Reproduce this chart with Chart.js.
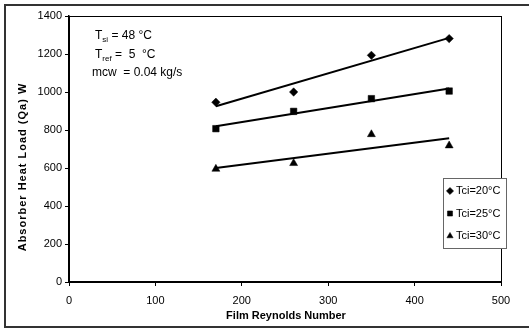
<!DOCTYPE html>
<html>
<head>
<meta charset="utf-8">
<script src="https://cdn.jsdelivr.net/npm/chart.js@4/dist/chart.umd.min.js"></script>
<style>
  html, body { margin: 0; padding: 0; background: #fff; }
  #wrap { width: 529px; height: 329px; position: relative; }
</style>
</head>
<body>
<div id="wrap"><canvas id="c" width="529" height="329"></canvas></div>
<script>
// Film Reynolds number at which the absorber was tested
const reynolds = [170, 260, 350, 440];
// Absorber heat load (W) for each cooling-water inlet temperature
const qaTci20 = [946, 1000, 1193, 1281];
const qaTci25 = [807, 898, 965, 1005];
const qaTci30 = [595, 625, 777, 718];
const seriesLabels = ['Tci=20\u00B0C', 'Tci=25\u00B0C', 'Tci=30\u00B0C'];
const seriesMarkers = ['rectRot', 'rect', 'triangle'];
const xTicks = [0, 100, 200, 300, 400, 500];
const yTicks = [0, 200, 400, 600, 800, 1000, 1200, 1400];

const FONT = '"Liberation Sans", Arial, sans-serif';

// least-squares straight line through a series, evaluated at the first and last x
function linearTrend(xs, ys) {
  const n = xs.length;
  const mx = xs.reduce((a, b) => a + b, 0) / n;
  const my = ys.reduce((a, b) => a + b, 0) / n;
  let sxy = 0, sxx = 0;
  for (let i = 0; i < n; i++) {
    sxy += (xs[i] - mx) * (ys[i] - my);
    sxx += (xs[i] - mx) * (xs[i] - mx);
  }
  const slope = sxy / sxx;
  const x0 = Math.min(...xs), x1 = Math.max(...xs);
  return [{ x: x0, y: my + slope * (x0 - mx) }, { x: x1, y: my + slope * (x1 - mx) }];
}

const allSeries = [qaTci20, qaTci25, qaTci30];
const markerRadius = [4.2, 4.6, 4.6];

const datasets = [];
allSeries.forEach((ys) => {
  datasets.push({
    type: 'line',
    data: linearTrend(reynolds, ys),
    borderColor: '#000',
    borderWidth: 2,
    pointRadius: 0,
    fill: false
  });
});
allSeries.forEach((ys, i) => {
  datasets.push({
    type: 'scatter',
    label: seriesLabels[i],
    data: reynolds.map((x, j) => ({ x: x, y: ys[j] })),
    pointStyle: seriesMarkers[i],
    pointRadius: markerRadius[i],
    pointBackgroundColor: '#000',
    pointBorderColor: '#000',
    pointBorderWidth: 0.5,
    showLine: false
  });
});

const framePlugin = {
  id: 'frame',
  beforeDatasetsDraw(chart) {
    const { ctx, chartArea: a } = chart;
    ctx.save();
    ctx.strokeStyle = '#000';
    ctx.lineWidth = 1;
    ctx.strokeRect(Math.round(a.left) + 0.5, Math.round(a.top) + 0.5,
      Math.round(a.right - a.left), Math.round(a.bottom - a.top));
    ctx.restore();
  },
  afterDraw(chart) {
    const ctx = chart.ctx;
    const a = chart.chartArea;
    ctx.save();

    // outer border of the figure (left, top, bottom edges)
    ctx.strokeStyle = '#333';
    ctx.lineWidth = 2;
    ctx.beginPath();
    ctx.moveTo(529, 5); ctx.lineTo(5, 5); ctx.lineTo(5, 327); ctx.lineTo(529, 327);
    ctx.stroke();

    // axis titles
    ctx.fillStyle = '#000';
    ctx.font = 'bold 11px ' + FONT;
    ctx.textAlign = 'center';
    ctx.textBaseline = 'alphabetic';
    ctx.fillText('Film Reynolds Number', (a.left + a.right) / 2 + 1, 318.5);

    ctx.save();
    ctx.translate(26, 167);
    ctx.rotate(-Math.PI / 2);
    ctx.letterSpacing = '1px';
    ctx.fillText('Absorber Heat Load (Qa) W', 0, 0);
    ctx.restore();

    // operating conditions
    ctx.textAlign = 'left';
    const tx = 95;
    function subLine(main, sub, rest, y) {
      ctx.font = '12px ' + FONT;
      ctx.fillText(main, tx, y);
      let x = tx + ctx.measureText(main).width;
      ctx.font = '8px ' + FONT;
      ctx.fillText(sub, x, y + 3);
      x += ctx.measureText(sub).width;
      ctx.font = '12px ' + FONT;
      ctx.fillText(rest, x, y);
    }
    subLine('T', 'si', ' = 48 \u00B0C', 39);
    subLine('T', 'ref', ' =  5  \u00B0C', 58);
    ctx.font = '12px ' + FONT;
    ctx.fillText('mcw  = 0.04 kg/s', tx - 3, 76);

    // legend box
    const lx = 443, ly = 178, lw = 63, lh = 70;
    ctx.fillStyle = '#fff';
    ctx.fillRect(lx, ly, lw, lh);
    ctx.strokeStyle = '#666';
    ctx.lineWidth = 1;
    ctx.strokeRect(lx + 0.5, ly + 0.5, lw, lh);
    const rows = [191, 213.5, 236];
    ctx.font = '11px ' + FONT;
    ctx.textBaseline = 'middle';
    seriesLabels.forEach((lab, i) => {
      ctx.fillStyle = '#000';
      ctx.strokeStyle = '#000';
      ctx.lineWidth = 0.5;
      Chart.helpers.drawPoint(ctx, { pointStyle: seriesMarkers[i], radius: 3.6, rotation: 0, borderWidth: 0.5 }, 450, rows[i]);
      ctx.fillStyle = '#000';
      ctx.fillText(lab, 456, rows[i]);
    });
    ctx.restore();
  }
};

const plainNumber = (v) => String(v);

new Chart(document.getElementById('c'), {
  data: { datasets: datasets },
  options: {
    responsive: false,
    animation: false,
    devicePixelRatio: 1,
    layout: { padding: { left: 0, top: 16, right: 28, bottom: 0 } },
    plugins: { legend: { display: false }, tooltip: { enabled: false } },
    scales: {
      x: {
        type: 'linear',
        min: 0, max: 500,
        afterFit(axis) { axis.height = 47; },
        afterBuildTicks(axis) { axis.ticks = xTicks.map(v => ({ value: v })); },
        grid: { drawOnChartArea: false, drawTicks: true, tickLength: 4, tickColor: '#000' },
        border: { color: '#000', width: 1.5 },
        ticks: { color: '#000', font: { family: FONT, size: 11 }, padding: 8, maxRotation: 0, callback: plainNumber }
      },
      y: {
        type: 'linear',
        min: 0, max: 1400,
        afterFit(axis) { axis.width = 69; },
        afterBuildTicks(axis) { axis.ticks = yTicks.map(v => ({ value: v })); },
        grid: { drawOnChartArea: false, drawTicks: true, tickLength: 4, tickColor: '#000' },
        border: { color: '#000', width: 1.5 },
        ticks: { color: '#000', font: { family: FONT, size: 11 }, padding: 3, callback: plainNumber }
      }
    }
  },
  plugins: [framePlugin]
});
</script>
</body>
</html>
